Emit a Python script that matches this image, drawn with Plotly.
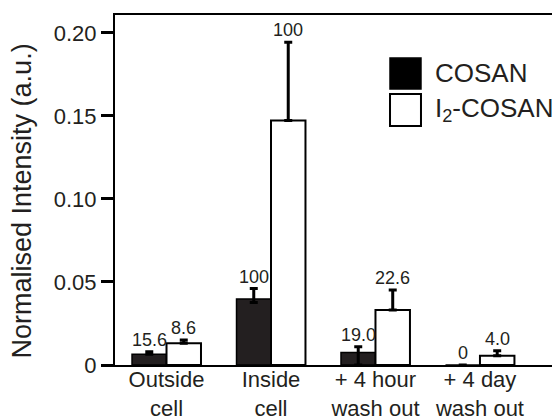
import plotly.graph_objects as go

categories = ["Outside<br>cell", "Inside<br>cell", "+ 4 hour<br>wash out", "+ 4 day<br>wash out"]
cosan = [0.0064, 0.0398, 0.0076, 0.0]
cosan_err_plus = [0.0016, 0.0062, 0.0034, 0.0]
cosan_err_minus = [0.0, 0.0022, 0.0076, 0.0]
i2cosan = [0.0131, 0.1472, 0.0331, 0.0056]
i2cosan_err = [0.0020, 0.0472, 0.0121, 0.0030]
cosan_labels = ["15.6", "100", "19.0", "0"]
i2cosan_labels = ["8.6", "100", "22.6", "4.0"]
ytick_vals = [0, 0.05, 0.10, 0.15, 0.20]
ytick_text = ["0", "0.05", "0.10", "0.15", "0.20"]

FONT = "Liberation Sans, Arial, sans-serif"
INK = "#231f20"
BW = 0.33
xs = list(range(len(categories)))
zeros = [0] * len(categories)

fig = go.Figure()
fig.add_trace(go.Bar(
    x=xs, y=cosan, width=BW, offset=-BW, name="COSAN",
    marker=dict(color=INK, line=dict(color="black", width=1.5)),
    error_y=dict(type="data", symmetric=False, array=cosan_err_plus,
                 arrayminus=cosan_err_minus, color="black", thickness=3, width=4),
    showlegend=False,
))
fig.add_trace(go.Bar(
    x=xs, y=i2cosan, width=BW, offset=0, name="I2-COSAN",
    marker=dict(color="white", line=dict(color="black", width=2)),
    error_y=dict(type="data", symmetric=False, array=i2cosan_err, arrayminus=zeros,
                 color="black", thickness=3, width=4),
    showlegend=False,
))

annotations = []
for i in xs:
    annotations.append(dict(x=i - BW / 2, y=cosan[i] + cosan_err_plus[i], text=cosan_labels[i],
                            xref="x", yref="y", showarrow=False, yanchor="bottom", yshift=0,
                            font=dict(size=18, color=INK, family=FONT)))
    annotations.append(dict(x=i + BW / 2, y=i2cosan[i] + i2cosan_err[i], text=i2cosan_labels[i],
                            xref="x", yref="y", showarrow=False, yanchor="bottom", yshift=0,
                            font=dict(size=18, color=INK, family=FONT)))

# y-axis title
annotations.append(dict(x=-0.209, y=0.47, xref="paper", yref="paper", text="Normalised Intensity (a.u.)",
                        textangle=-90, showarrow=False, xanchor="center", yanchor="middle",
                        font=dict(size=27, color=INK, family=FONT)))
# legend text
annotations.append(dict(x=0.7146, y=0.833, xref="paper", yref="paper", text="COSAN",
                        showarrow=False, xanchor="left", yanchor="middle",
                        font=dict(size=26, color=INK, family=FONT)))
annotations.append(dict(x=0.7146, y=0.7286, xref="paper", yref="paper", text="I<sub>2</sub>-COSAN",
                        showarrow=False, xanchor="left", yanchor="middle",
                        font=dict(size=26, color=INK, family=FONT)))

shapes = [
    dict(type="rect", xref="paper", yref="paper", x0=0.618, x1=0.6876, y0=0.7886, y1=0.877,
         fillcolor="black", line=dict(color="black", width=1.5)),
    dict(type="rect", xref="paper", yref="paper", x0=0.618, x1=0.6876, y0=0.683, y1=0.774,
         fillcolor="white", line=dict(color="black", width=2)),
]

# The page body has an 8px default margin, so the figure is sized to 552x412
fig.update_layout(
    width=552, height=412,
    margin=dict(l=107, r=0, t=7, b=55, autoexpand=False),
    paper_bgcolor="white", plot_bgcolor="white",
    barmode="overlay",
    font=dict(family=FONT, color=INK),
    annotations=annotations, shapes=shapes,
    xaxis=dict(range=[-0.493, 3.766], tickvals=xs, ticktext=categories,
               showline=True, mirror=True, linecolor="black", linewidth=2,
               ticks="", showgrid=False, zeroline=False, automargin=False,
               ticklabelstandoff=-6,
               tickfont=dict(size=22, color=INK, family=FONT)),
    yaxis=dict(range=[0, 0.2108], tickvals=ytick_vals, ticktext=ytick_text,
               showline=True, mirror=False, linecolor="black", linewidth=2,
               ticks="outside", ticklen=12, tickwidth=3, tickcolor="black",
               showgrid=False, zeroline=False, automargin=False,
               tickfont=dict(size=22, color=INK, family=FONT)),
)

fig.write_html("out.html")
